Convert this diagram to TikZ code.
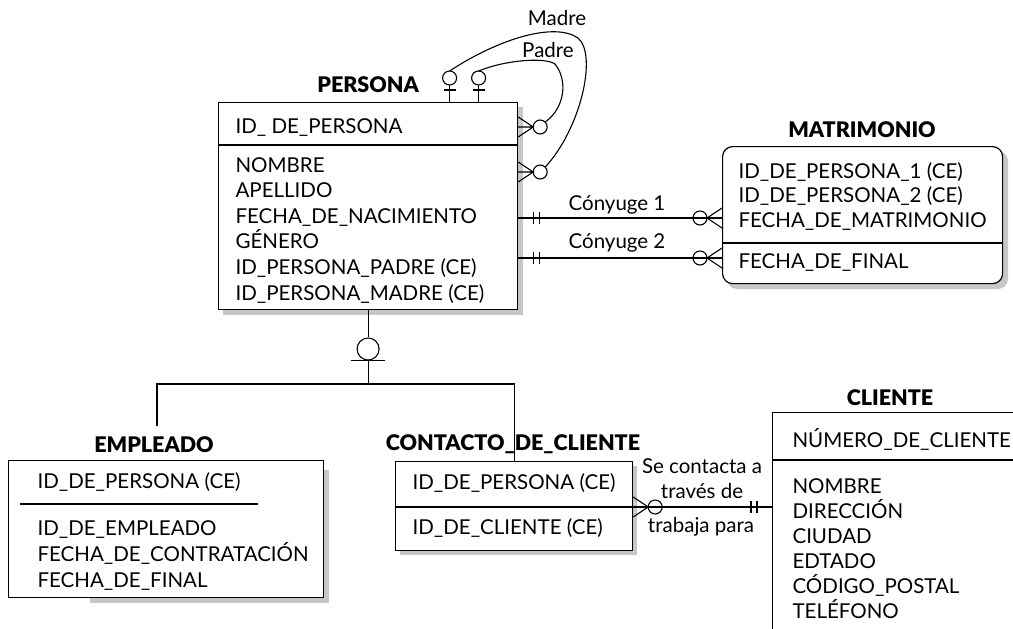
\documentclass[tikz,border=0pt]{standalone}
\usepackage{fontspec}
\setmainfont{Lato}
\IfFontExistsTF{Lato Black}{\newfontfamily\titlefont{Lato Black}}{\newfontfamily\titlefont{Lato Bold}}
\begin{document}
\begin{tikzpicture}[x=1pt, y=-1pt, line width=1.1pt,
  entity/.style={draw, fill=white, line width=1.2pt, inner sep=0pt, anchor=north west},
  boxshadow/.style={fill=black!22, draw=none},
  attr/.style={font=\fontsize{20.5}{24}\selectfont, inner sep=0pt, anchor=base west},
  rellabel/.style={font=\fontsize{20.5}{24}\selectfont, inner sep=0pt, anchor=base},
  enttitle/.style={font=\fontsize{21.5}{24}\titlefont, inner sep=0pt, anchor=base},
  zeromany/.pic={\draw (0,-10) -- (15,0) -- (0,10) (0,0) -- (15,0);
    \draw (22,0) circle (7); \coordinate (-tip) at (27,-5);},
  zeroone/.pic={\draw (0,0) -- (17,0) (12,-6) -- (12,6);
    \draw (24,0) circle (7); \coordinate (-tip) at (31,0);},
  oneone/.pic={\draw (15,-6) -- (15,6) (21,-6) -- (21,6);}]
  \useasboundingbox (0,0) rectangle (1013,629);
  \fill[white] (0,0) rectangle (1013,629);
  \clip (0,0) rectangle (1013,629);

  % Shadows
  \fill[boxshadow] (223,107) rectangle (523,315);
  \fill[boxshadow, rounded corners=10pt] (727,151) rectangle (1008,289);
  \fill[boxshadow] (90,470) rectangle (329,603);
  \fill[boxshadow] (400,466) rectangle (637,555);

  % Entities
  \node[entity, minimum width=299pt, minimum height=207pt] (persona) at (218,102) {};
  \node[entity, minimum width=280pt, minimum height=137pt, rounded corners=10pt] (matrimonio) at (722,146) {};
  \node[entity, minimum width=315pt, minimum height=137pt] (empleado) at (8,460) {};
  \node[entity, minimum width=237pt, minimum height=89pt] (contacto) at (395,461) {};
  \node[entity, minimum width=300pt, minimum height=260pt] (cliente) at (772,412) {};

  % Separators
  \draw[line width=1.2pt] (persona.west |- 0,145) -- (persona.east |- 0,145);
  \draw[line width=1.2pt] (matrimonio.west |- 0,243) -- (matrimonio.east |- 0,243);
  \draw[line width=1.2pt] (20,504) -- (258,504);
  \draw[line width=1.2pt] (contacto.west |- 0,507) -- (contacto.east |- 0,507);
  \draw[line width=1.2pt] (cliente.west |- 0,460) -- (cliente.east |- 0,460);

  % Titles
  \node[enttitle] (persona-t) at ([yshift=10pt]persona.north) {PERSONA};
  \node[enttitle] (matrimonio-t) at (862,137) {MATRIMONIO};
  \node[enttitle] (empleado-t) at (154,452) {EMPLEADO};
  \node[enttitle] (contacto-t) at (513,450) {CONTACTO\_DE\_CLIENTE};
  \node[enttitle] (cliente-t) at (890,405) {CLIENTE};

  % Attributes
  \node[attr] (persona-0) at (235,133) {ID\_ DE\_PERSONA};
  \foreach \t [count=\i] in {NOMBRE, APELLIDO, FECHA\_DE\_NACIMIENTO, GÉNERO,
      {ID\_PERSONA\_PADRE (CE)}, {ID\_PERSONA\_MADRE (CE)}}
    \node[attr] (persona-\i) at (235,{172+25.6*(\i-1)}) {\t};
  \foreach \t [count=\i] in {{ID\_DE\_PERSONA\_1 (CE)}, {ID\_DE\_PERSONA\_2 (CE)},
      FECHA\_DE\_MATRIMONIO}
    \node[attr] (matrimonio-\i) at (738,{178+24.5*(\i-1)}) {\t};
  \node[attr] (matrimonio-4) at (738,268) {FECHA\_DE\_FINAL};
  \node[attr] (empleado-0) at (37,488) {ID\_DE\_PERSONA (CE)};
  \foreach \t [count=\i] in {ID\_DE\_EMPLEADO, FECHA\_DE\_CONTRATACIÓN, FECHA\_DE\_FINAL}
    \node[attr] (empleado-\i) at (37,{535+26*(\i-1)}) {\t};
  \node[attr] (contacto-1) at (412,489) {ID\_DE\_PERSONA (CE)};
  \node[attr] (contacto-2) at (412,534) {ID\_DE\_CLIENTE (CE)};
  \node[attr] (cliente-0) at (792,447) {NÚMERO\_DE\_CLIENTE};
  \foreach \t [count=\i] in {NOMBRE, DIRECCIÓN, CIUDAD, EDTADO, CÓDIGO\_POSTAL, TELÉFONO}
    \node[attr] (cliente-\i) at (792,{493+25*(\i-1)}) {\t};

  % Padre / Madre
  \path ([xshift=81.5pt]persona.north) pic[rotate=90] (mtop) {zeroone};
  \path ([xshift=110.5pt]persona.north) pic[rotate=90] (ptop) {zeroone};
  \path ([yshift=-25pt]persona.north east) pic (pright) {zeromany};
  \path ([yshift=-70pt]persona.north east) pic (mright) {zeromany};
  \draw (ptop-tip) .. controls (505,60) and (545,57) .. (555,64)
    .. controls (568,80) and (565,108) .. (pright-tip);
  \draw (mtop-tip) .. controls (500,38) and (555,22) .. (578,38)
    .. controls (598,55) and (580,130) .. (mright-tip);
  \node[rellabel] (madre) at (557,25) {Madre};
  \node[rellabel] (padre) at (548,57) {Padre};

  % Conyuges
  \coordinate (c1) at (persona.east |- 0,218);
  \coordinate (c2) at (persona.east |- 0,258);
  \draw (c1) -- (c1 -| matrimonio.west);
  \draw (c2) -- (c2 -| matrimonio.west);
  \path (c1) pic {oneone};
  \path (c2) pic {oneone};
  \path (c1 -| matrimonio.west) pic[rotate=180] {zeromany};
  \path (c2 -| matrimonio.west) pic[rotate=180] {zeromany};
  \node[rellabel] (conyuge1) at (617,210) {Cónyuge 1};
  \node[rellabel] (conyuge2) at (617,248) {Cónyuge 2};

  % Subtypes
  \node[circle, draw, minimum size=22pt, inner sep=0pt] (sub) at (persona.south |- 0,349) {};
  \draw (persona.south) -- (sub.north);
  \draw ([xshift=-17pt]sub.south) -- ([xshift=17pt]sub.south);
  \coordinate (split) at (sub.south |- 0,384);
  \coordinate (emptop) at (157,426);
  \draw (sub.south) -- (split);
  \draw (emptop) |- (split) -| (contacto.north);

  % Contacto - Cliente
  \coordinate (tc) at (contacto.east |- 0,507);
  \draw (tc) -- (tc -| cliente.west);
  \path (tc) pic {zeromany};
  \path (tc -| cliente.west) pic[rotate=180] {oneone};
  \node[rellabel] (contacta1) at (702,473) {Se contacta a};
  \node[rellabel] (contacta2) at (702,498) {través de};
  \node[rellabel] (trabaja) at (701,532) {trabaja para};
\end{tikzpicture}
\end{document}
